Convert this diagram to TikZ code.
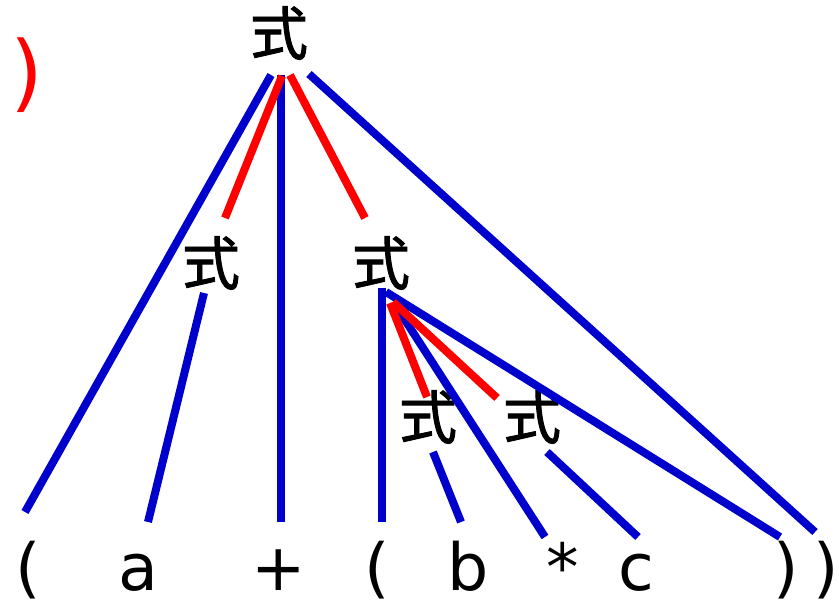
\documentclass[tikz,border=0pt]{standalone}
\usepackage{fontspec}
\setmainfont{DejaVu Sans}
\newfontfamily\cjk[AutoFakeBold=1.5]{Noto Sans CJK JP}
\usepackage{tikz}

\begin{document}
\begin{tikzpicture}[
    x=1pt, y=-1pt,
    nonterm/.style={inner sep=0pt, font=\cjk\bfseries\fontsize{58}{58}\selectfont},
    leaf/.style={inner sep=0pt, anchor=base, font=\fontsize{65}{65}\selectfont},
    tree/.style={draw=blue!80!black, line width=8pt},
    redtree/.style={draw=red, line width=8pt}
]
\useasboundingbox (0,0) rectangle (839,609);

% stray bracket
\node[inner sep=0pt, text=red, font=\fontsize{84}{84}\selectfont] (stray) at (27,75) {)};

% nonterminals
\node[nonterm] (top) at (279,33)  {式};
\node[nonterm] (ml)  at (211,263) {式};
\node[nonterm] (mr)  at (381,263) {式};
\node[nonterm] (ll)  at (428,417) {式};
\node[nonterm] (lr)  at (532,417) {式};

% leaves
\node[leaf] (l1) at (28,591)  {(};
\node[leaf] (a)  at (138,591) {a};
\node[leaf] (pl) at (279,591) {+};
\node[leaf] (l4) at (377,591) {(};
\node[leaf] (b)  at (468,591) {b};
\node[leaf] (st) at (563,591) {*};
\node[leaf] (c)  at (636,591) {c};
\node[leaf] (r1) at (786,591) {)};
\node[leaf] (r2) at (826,591) {)};

% edges from the top
\draw[tree] ([shift={(-8,42)}]top.center) -- ([shift={(-3,-79)}]l1.base);
\draw[tree] ([shift={(2,42)}]top.center) -- ([shift={(2,-69)}]pl.base);
\draw[tree] ([shift={(30,41)}]top.center) -- ([shift={(-11,-59)}]r2.base);

% edges below
\draw[tree] ([shift={(-7,30)}]ml.center) -- ([shift={(10,-69)}]a.base);
\draw[tree] ([shift={(1,25)}]mr.center) -- ([shift={(5,-69)}]l4.base);
\draw[tree] ([shift={(5,29)}]mr.center) -- ([shift={(-6,-54)}]r1.base);
\draw[tree] ([shift={(13,40)}]mr.center) -- ([shift={(-18,-54)}]st.base);
\draw[tree] ([shift={(5,35)}]ll.center) -- ([shift={(-7,-69)}]b.base);
\draw[tree] ([shift={(15,35)}]lr.center) -- ([shift={(2,-54)}]c.base);

% red edges
\draw[redtree] ([shift={(3,43)}]top.center) -- ([shift={(14,-45)}]ml.center);
\draw[redtree] ([shift={(11,42)}]top.center) -- ([shift={(-16,-45)}]mr.center);
\draw[redtree] ([shift={(9,40)}]mr.center) -- ([shift={(-1,-20)}]ll.center);
\draw[redtree] ([shift={(12,39)}]mr.center) -- ([shift={(-35,-19)}]lr.center);

\end{tikzpicture}
\end{document}
